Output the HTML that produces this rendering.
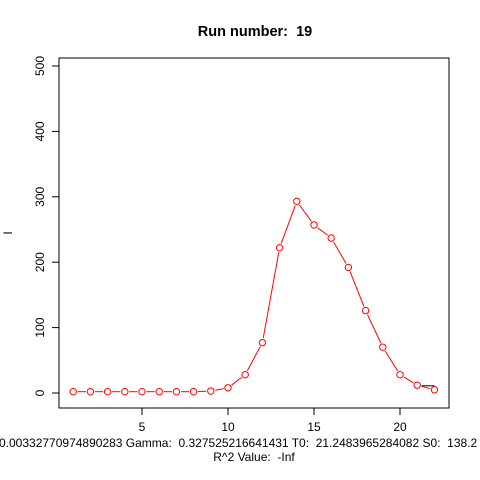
<!DOCTYPE html>
<html><head><meta charset="utf-8"><style>body{margin:0;background:#fff}svg{display:block;font-family:"Liberation Sans",sans-serif}text{white-space:pre}</style></head>
<body>
<svg id="c" width="480" height="480">
<rect width="480" height="480" fill="#fff"/>
<text x="255" y="36" font-size="14.5" font-weight="bold" text-anchor="middle">Run number:  19</text>
<rect x="59" y="58" width="390" height="350" fill="none" stroke="#000"/>
<text transform="translate(12,233) rotate(-90)" font-size="12" text-anchor="middle">I</text>
<text x="-1" y="447" font-size="12">0.00332770974890283 Gamma:  0.327525216641431 T0:  21.2483965284082 S0:  138.2</text>
<text x="254" y="461" font-size="12" text-anchor="middle">R^2 Value:  -Inf</text>
<g id="axes"></g><g id="marks"></g>
</svg>
<script>
const xs=[1,2,3,4,5,6,7,8,9,10,11,12,13,14,15,16,17,18,19,20,21,22];
const ys=[2,2,2,2,2,2,2,2,3,8,28,77,222,293,257,237,192,126,70,28,12,5];
const fitX=[21.25,22];
const fitY=[11,11];
const xTicks=[5,10,15,20];
const yTicks=[0,100,200,300,400,500];
const X=v=>73.2+(v-1)*17.2, Y=v=>393-v*0.654;
const NS="http://www.w3.org/2000/svg";
function mk(t,a,p){const e=document.createElementNS(NS,t);for(const k in a)e.setAttribute(k,a[k]);p.appendChild(e);return e;}
const ax=document.getElementById('axes'),mg=document.getElementById('marks');
xTicks.forEach(t=>{const l=mk('line',{x1:X(t),x2:X(t),y1:408,y2:415,stroke:'#000'},ax);


const tx=mk('text',{x:X(t),y:431,'font-size':12,'text-anchor':'middle'},ax);tx.textContent=t;

});
mk('line',{x1:X(5),x2:X(20),y1:408,y2:408,stroke:'#000'},ax);
yTicks.forEach(t=>{const l=mk('line',{x1:52,x2:59,y1:Y(t),y2:Y(t),stroke:'#000'},ax);


const tx=mk('text',{transform:`translate(44,${Y(t)}) rotate(-90)`,'font-size':12,'text-anchor':'middle'},ax);tx.textContent=t;

});
for(let i=0;i<xs.length-1;i++){const x1=X(xs[i]),y1=Y(ys[i]),x2=X(xs[i+1]),y2=Y(ys[i+1]);
const d=Math.hypot(x2-x1,y2-y1);if(d<8)continue;const ux=(x2-x1)/d,uy=(y2-y1)/d;
const s=mk('line',{x1:x1+ux*4.5,y1:y1+uy*4.5,x2:x2-ux*4.5,y2:y2-uy*4.5,stroke:'#f00'},mg);

}
const f=mk('line',{x1:X(fitX[0]),y1:Y(fitY[0]),x2:X(fitX[1]),y2:Y(fitY[1]),stroke:'#000'},mg);


xs.forEach((x,i)=>{const c=mk('circle',{cx:X(x),cy:Y(ys[i]),r:3.2,fill:'none',stroke:'#f00'},mg);

});
</script>
</body></html>
